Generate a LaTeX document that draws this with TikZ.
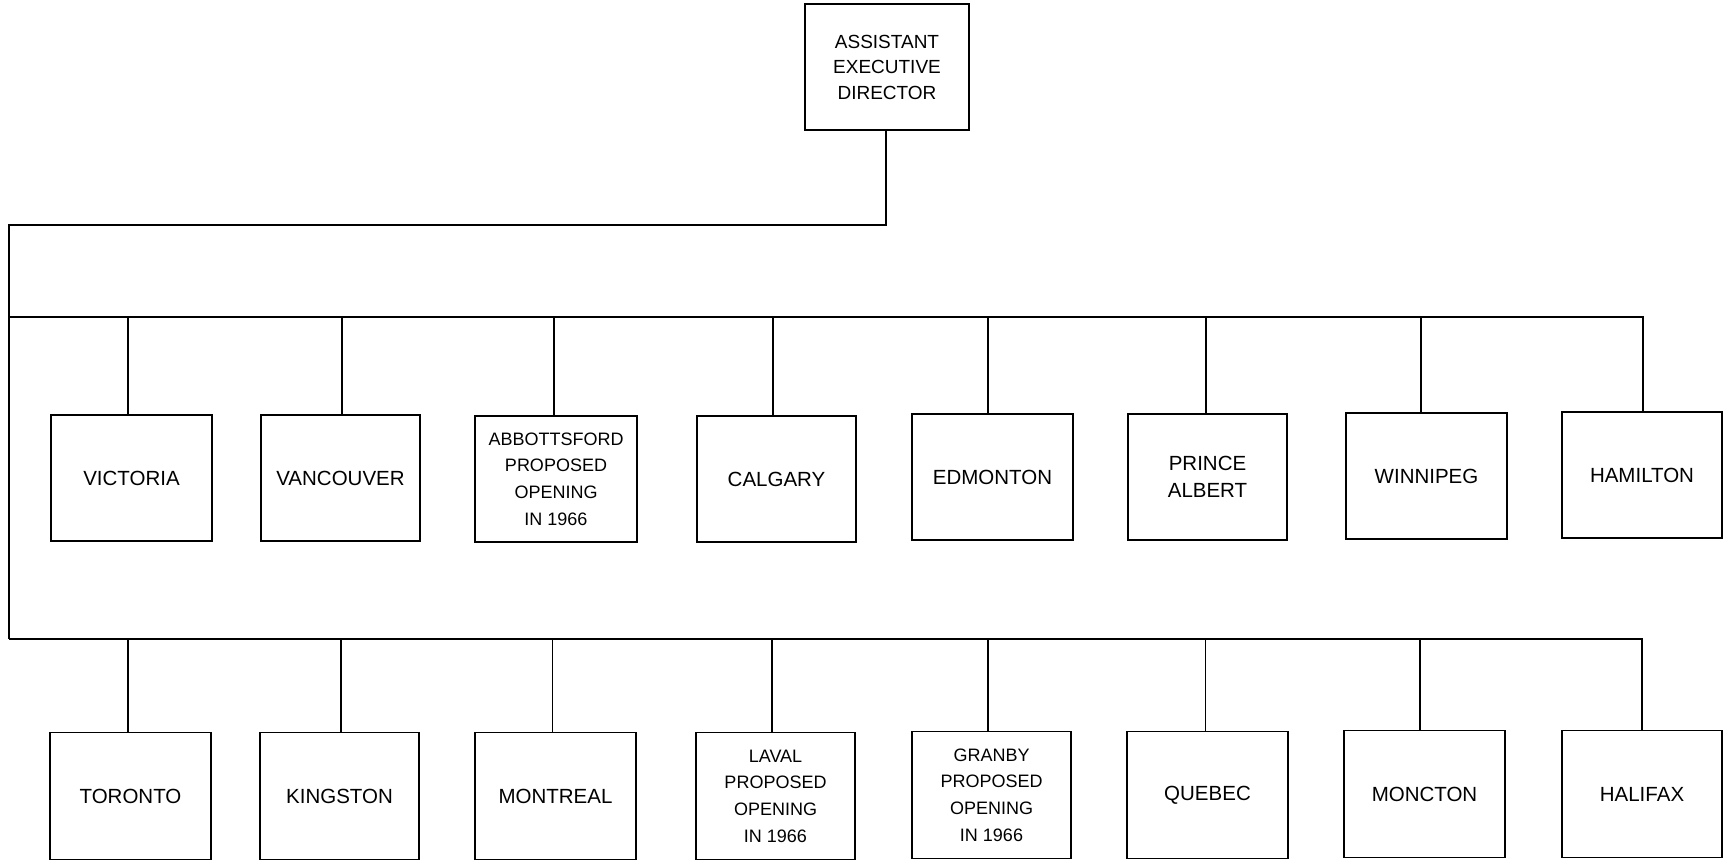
\documentclass[tikz,border=0pt]{standalone}
\usepackage{fontspec}
\setmainfont{Liberation Sans}
\tikzset{
  box/.style={draw, line width=1.2pt, minimum width=160pt, minimum height=126pt,
    inner sep=0pt, align=center, font=\fontsize{20.5}{26.7}\selectfont},
  smalltext/.style={font=\fontsize{18}{26.7}\selectfont},
  toptext/.style={font=\fontsize{19}{25.5}\selectfont},
  conn/.style={line width=1.8pt},
}
\begin{document}
\begin{tikzpicture}[x=1pt,y=-1pt]
\useasboundingbox (0,0) rectangle (1723,862);
% top
\node[box, toptext, minimum width=164pt] (aed) at (887,67) {ASSISTANT\\EXECUTIVE\\DIRECTOR};
% row 1
\node[box, minimum width=161pt] (vic) at (131.5,478) {VICTORIA};
\node[box, minimum width=159pt] (van) at (340.5,478) {VANCOUVER};
\node[box, smalltext, minimum width=162pt] (abb) at (556,479) {ABBOTTSFORD\\PROPOSED\\OPENING\\IN 1966};
\node[box, minimum width=159pt] (cal) at (776.5,479) {CALGARY};
\node[box, minimum width=161pt] (edm) at (992.5,477) {EDMONTON};
\node[box, minimum width=159pt] (pa) at (1207.5,477) {PRINCE\\ALBERT};
\node[box, minimum width=161pt] (win) at (1426.5,476) {WINNIPEG};
\node[box, minimum width=160pt] (ham) at (1642,475) {HAMILTON};
% row 2
\node[box, minimum width=161pt, minimum height=127pt] (tor) at (130.5,796) {TORONTO};
\node[box, minimum width=159pt, minimum height=127pt] (kin) at (339.5,796) {KINGSTON};
\node[box, minimum width=161pt, minimum height=127pt] (mtl) at (555.5,796) {MONTREAL};
\node[box, smalltext, minimum width=159pt, minimum height=127pt] (lav) at (775.5,796) {LAVAL\\PROPOSED\\OPENING\\IN 1966};
\node[box, smalltext, minimum width=159pt, minimum height=127pt] (gra) at (991.5,795) {GRANBY\\PROPOSED\\OPENING\\IN 1966};
\node[box, minimum width=161pt, minimum height=127pt] (que) at (1207.5,795) {QUEBEC};
\node[box, minimum width=161pt, minimum height=127pt] (mct) at (1424.5,794) {MONCTON};
\node[box, minimum width=160pt, minimum height=127pt] (hal) at (1642,794) {HALIFAX};
% connectors
\coordinate (trunk) at (9,225);
\coordinate (busA) at (9,317);
\coordinate (busB) at (9,639);
\draw[conn] ([xshift=-1pt]aed.south) |- (trunk) -- (busB);
\draw[conn] (busA) -| ([xshift=1pt]ham.north);
\draw[conn] (busB) -| (hal.north);
\foreach \n/\d in {vic/-3.5,van/1.5,abb/-2,cal/-3.5,edm/-4.5,pa/-1.5,win/-5.5}
  \draw[conn] ([xshift=\d pt]\n.north) -- ([xshift=\d pt]\n.north |- busA);
\foreach \n/\d in {tor/-2.5,kin/1.5,mtl/-3,lav/-3.5,gra/-3.5,que/-2,mct/-4.5}
  \draw[conn] ([xshift=\d pt]\n.north) -- ([xshift=\d pt]\n.north |- busB);
\end{tikzpicture}
\end{document}
